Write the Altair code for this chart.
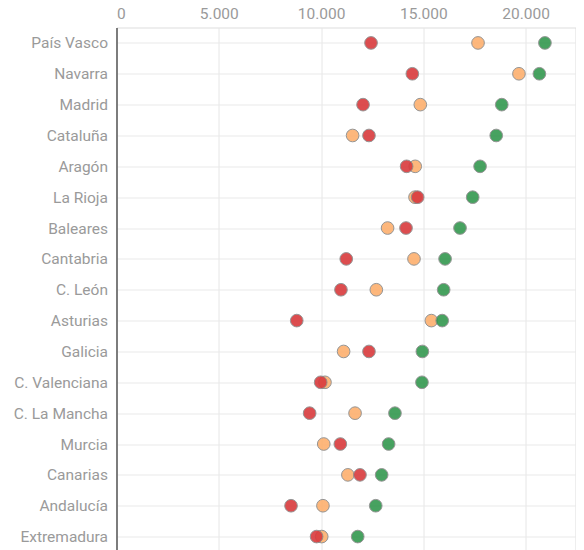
import altair as alt
import pandas as pd

regiones = ["País Vasco", "Navarra", "Madrid", "Cataluña", "Aragón", "La Rioja",
            "Baleares", "Cantabria", "C. León", "Asturias", "Galicia",
            "C. Valenciana", "C. La Mancha", "Murcia", "Canarias", "Andalucía",
            "Extremadura"]
verde = [20940, 20670, 18830, 18560, 17770, 17410, 16790, 16060, 15990, 15920,
         14950, 14930, 13610, 13300, 12960, 12670, 11790]
naranja = [17670, 19670, 14850, 11540, 14600, 14590, 13250, 14540, 12700, 15390,
           11100, 10190, 11660, 10130, 11310, 10090, 10030]
rojo = [12440, 14460, 12050, 12340, 14180, 14720, 14150, 11230, 10970, 8810,
        12340, 9980, 9440, 10940, 11900, 8530, 9780]

series = ["naranja", "rojo", "verde"]
colores = ["#fdb06e", "#d93a3d", "#34984f"]

rows = []
for nombre, vals in zip(series, [naranja, rojo, verde]):
    for r, v in zip(regiones, vals):
        rows.append({"region": r, "valor": v, "serie": nombre})
df = pd.DataFrame(rows)

chart = alt.Chart(df).mark_circle(
    size=160, opacity=0.9, stroke="#8a8a8a", strokeWidth=1
).encode(
    x=alt.X("valor:Q",
            scale=alt.Scale(domain=[0, 22850], nice=False, zero=True,
                            range=[0, 467.5]),
            axis=alt.Axis(orient="top", values=[0, 5000, 10000, 15000, 20000],
                          format=",d", title=None, domain=False, ticks=False,
                          labelColor="#9a9a9a", labelFontSize=15.5, labelPadding=6,
                          labelFont="Roboto", gridColor="#e6e6e6")),
    y=alt.Y("region:N", sort=regiones,
            scale=alt.Scale(type="point", padding=0.5, range=[0, 524.5]),
            axis=alt.Axis(title=None, domain=True, domainColor="#333333",
                          domainWidth=1.2, ticks=False, labelColor="#9a9a9a",
                          labelFontSize=15.5, labelFont="Roboto", labelPadding=9,
                          grid=True, gridColor="#e9e9e9")),
    color=alt.Color("serie:N", scale=alt.Scale(domain=series, range=colores),
                    legend=None),
    order=alt.Order("orden:Q"),
).transform_calculate(
    orden="datum.serie == 'naranja' ? 0 : (datum.serie == 'rojo' ? 1 : 2)"
).properties(
    width=459, height=524.5,
    padding={"left": 108.5, "top": 19.5, "right": 0, "bottom": 0},
    autosize=alt.AutoSizeParams(type="none"),
).configure_view(stroke=None).configure(
    locale={"number": {"decimal": ",", "thousands": ".", "grouping": [3],
                       "currency": ["", " €"]}}
)

chart.save("out.html", embed_options={"renderer": "svg", "actions": False})
